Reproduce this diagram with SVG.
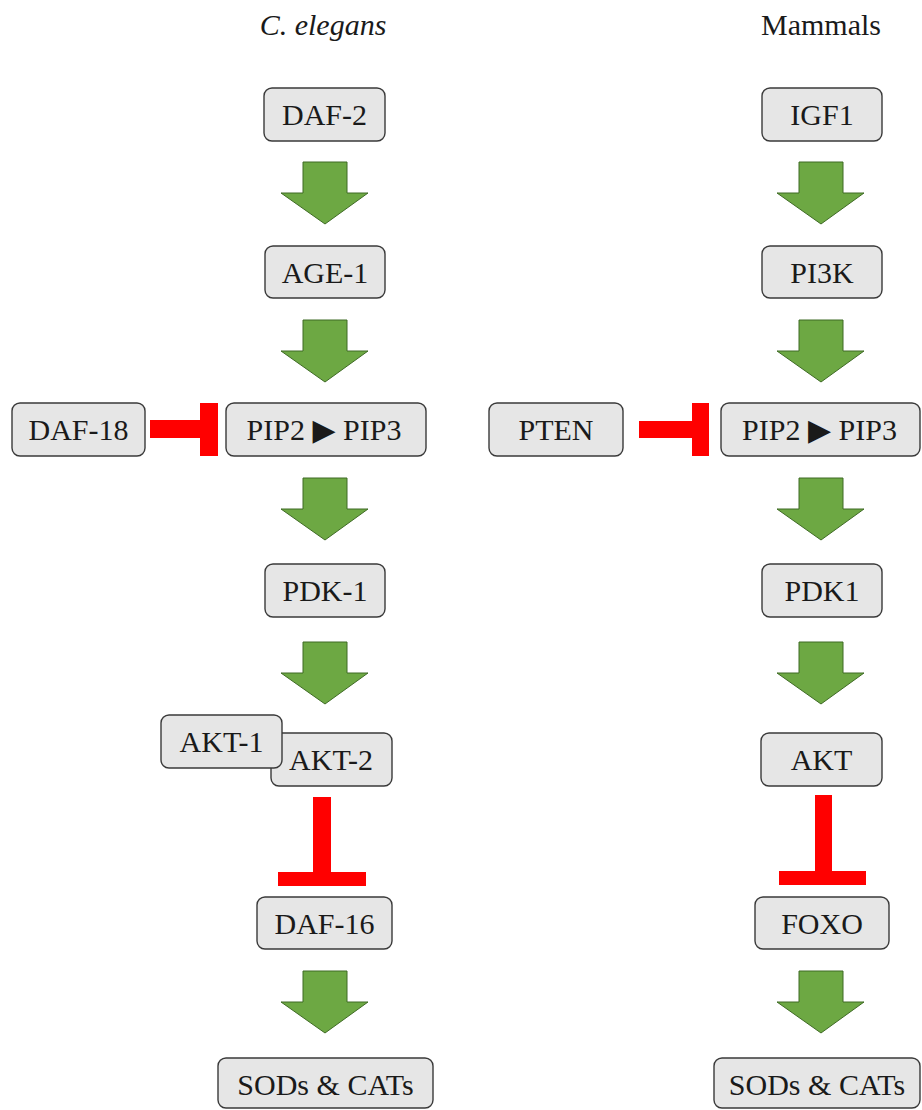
<svg xmlns="http://www.w3.org/2000/svg" xmlns:xlink="http://www.w3.org/1999/xlink" width="922" height="1110" viewBox="0 0 922 1110">
<style>
.box{fill:#E6E6E6;stroke:#3a3a3a;stroke-width:1.4}
text{font-family:'Liberation Serif','Times New Roman',serif;font-size:30px;fill:#1a1a1a;text-anchor:middle}
.act{fill:#6DA843;stroke:#3F6B25;stroke-width:1}
.inh{fill:#FF0000}
.tri{font-family:'DejaVu Sans',sans-serif;font-size:30px}
</style>
<defs>
<path id="fat" d="M-22,0 H22 V31 H43 L0,62 L-44,31 H-22 Z"/>
</defs>
<rect width="922" height="1110" fill="#ffffff"/>
<text x="323" y="35" font-style="italic">C. elegans</text>
<text x="821" y="35">Mammals</text>

<g id="connectors">
<use xlink:href="#fat" class="act" transform="translate(325,162)"/>
<use xlink:href="#fat" class="act" transform="translate(325,320)"/>
<use xlink:href="#fat" class="act" transform="translate(325,478)"/>
<use xlink:href="#fat" class="act" transform="translate(325,642)"/>
<use xlink:href="#fat" class="act" transform="translate(325,971)"/>
<use xlink:href="#fat" class="act" transform="translate(821,162)"/>
<use xlink:href="#fat" class="act" transform="translate(821,320)"/>
<use xlink:href="#fat" class="act" transform="translate(821,478)"/>
<use xlink:href="#fat" class="act" transform="translate(821,642)"/>
<use xlink:href="#fat" class="act" transform="translate(821,971)"/>
<path class="inh" d="M150,420 H200 V403 H218 V456 H200 V438 H150 Z"/>
<path class="inh" d="M639,421 H692 V403 H709 V456 H692 V438 H639 Z"/>
<path class="inh" d="M313,797 H331 V872 H366 V886 H278 V872 H313 Z"/>
<path class="inh" d="M815,795 H832 V871 H866 V885 H779 V871 H815 Z"/>
</g>

<g id="daf2"><rect class="box" x="264" y="88" width="121" height="53" rx="8"/><text x="324.5" y="125">DAF-2</text></g>
<g id="age1"><rect class="box" x="265" y="246" width="120" height="52" rx="8"/><text x="325" y="283">AGE-1</text></g>
<g id="daf18"><rect class="box" x="12" y="403" width="133" height="53" rx="8"/><text x="78.5" y="440">DAF-18</text></g>
<g id="pip-left"><rect class="box" x="226" y="403" width="200" height="53" rx="8"/><text x="324" y="440">PIP2 <tspan class="tri">▶</tspan> PIP3</text></g>
<g id="pdk-1"><rect class="box" x="265" y="564" width="120" height="53" rx="8"/><text x="325" y="601">PDK-1</text></g>
<g id="akt2"><rect class="box" x="271" y="733" width="121" height="53" rx="8"/><text x="331" y="770">AKT-2</text></g>
<g id="akt1"><rect class="box" x="161" y="715" width="121" height="53" rx="8"/><text x="221.5" y="752">AKT-1</text></g>
<g id="daf16"><rect class="box" x="257" y="897" width="135" height="52" rx="8"/><text x="324.5" y="934">DAF-16</text></g>
<g id="sods-left"><rect class="box" x="218" y="1058" width="215" height="50" rx="8"/><text x="325.5" y="1095">SODs &amp; CATs</text></g>

<g id="igf1"><rect class="box" x="762" y="88" width="120" height="53" rx="8"/><text x="822" y="125">IGF1</text></g>
<g id="pi3k"><rect class="box" x="762" y="246" width="120" height="52" rx="8"/><text x="822" y="283">PI3K</text></g>
<g id="pten"><rect class="box" x="489" y="403" width="134" height="53" rx="8"/><text x="556" y="440">PTEN</text></g>
<g id="pip-right"><rect class="box" x="721" y="403" width="199" height="53" rx="8"/><text x="819.5" y="440">PIP2 <tspan class="tri">▶</tspan> PIP3</text></g>
<g id="pdk1"><rect class="box" x="762" y="564" width="120" height="53" rx="8"/><text x="822" y="601">PDK1</text></g>
<g id="akt"><rect class="box" x="761" y="733" width="121" height="53" rx="8"/><text x="821.5" y="770">AKT</text></g>
<g id="foxo"><rect class="box" x="755" y="897" width="134" height="52" rx="8"/><text x="822" y="934">FOXO</text></g>
<g id="sods-right"><rect class="box" x="714" y="1058" width="206" height="50" rx="8"/><text x="817" y="1095">SODs &amp; CATs</text></g>
</svg>
